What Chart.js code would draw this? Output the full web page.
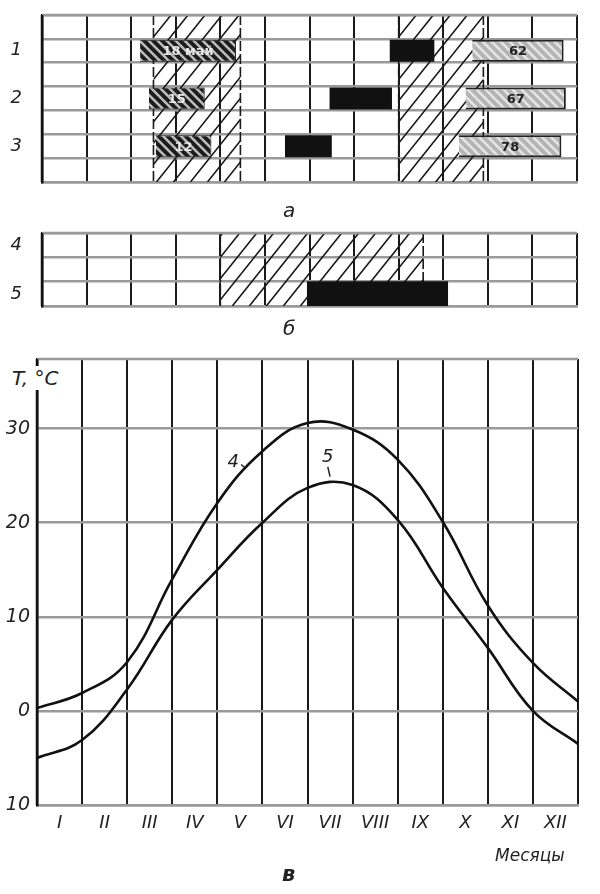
<!DOCTYPE html>
<html>
<head>
<meta charset="utf-8">
<script src="https://cdn.jsdelivr.net/npm/chart.js@4.4.0/dist/chart.umd.min.js"></script>
<style>
  body { margin: 0; background: #fff; }
  #wrap { position: relative; width: 600px; height: 894px; background: #fff; overflow: hidden; }
  canvas { position: absolute; left: 0; }
  .cap { position: absolute; font-family: "DejaVu Sans", sans-serif; font-style: italic; color: #222; }
</style>
</head>
<body>
<div id="wrap">
  <canvas id="chartA" width="600" height="200" style="top:0"></canvas>
  <canvas id="chartB" width="600" height="100" style="top:220px"></canvas>
  <canvas id="chartC" width="600" height="554" style="top:340px"></canvas>
  <div class="cap" style="left:283px; top:198px; font-size:20px;">а</div>
  <div class="cap" style="left:283px; top:316px; font-size:20px;">б</div>
  <div class="cap" style="left:10px; top:366px; font-size:20px; background:#fff; padding:0 2px;">T, °C</div>
  <div class="cap" style="left:495px; top:845px; font-size:17px;">Месяцы</div>
  <div class="cap" style="left:282px; top:862px; font-size:21px; font-weight:bold;">в</div>
</div>
<script>
// Fig. a: rows 1-3, floating bars over months (0..12)
const rowsA = ["", "1", "", "2", "", "3", ""];
const hatchA = [[2.5, 4.45], [8.0, 9.9]];
const blackA = [null, [7.8, 8.8], null, [6.45, 7.85], null, [5.45, 6.5], null];
const darkA = [null, [2.2, 4.35], null, [2.4, 3.65], null, [2.55, 3.8], null];
const darkText = ["", "18 май", "", "15", "", "12", ""];
const grayA = [null, [9.65, 11.7], null, [9.5, 11.75], null, [9.35, 11.65], null];
const grayText = ["", "62", "", "67", "", "78", ""];

// Fig. б
const rowsB = ["4", "", "5"];
const hatchB = [[4.0, 8.55]];
const blackB = [null, null, [5.95, 9.1]];

// Fig. в: temperature curves, values at month boundaries
const months = ["I", "II", "III", "IV", "V", "VI", "VII", "VIII", "IX", "X", "XI", "XII"];
const monthPos = [0, 1, 2, 3, 4, 5, 6, 7, 8, 9, 10, 11, 12];
const temp4 = [0.3, 1.9, 5.2, 14, 22.1, 27.6, 30.6, 29.9, 26.7, 20.1, 11.2, 5.1, 1.0];
const temp5 = [-5.0, -3.1, 2.3, 9.7, 15.0, 20.0, 23.7, 24.0, 20.3, 13.1, 6.7, 0.0, -3.5];
const tickValues = [-10, 0, 10, 20, 30];
const tickLabels = ["10", "0", "10", "20", "30"];

const FONT = "DejaVu Sans";
const gridGray = "#9a9a9a";

function stripes(bg, fg, size, lw) {
    var c = document.createElement("canvas");
    c.width = size; c.height = size;
    var g = c.getContext("2d");
    g.fillStyle = bg;
    g.fillRect(0, 0, size, size);
    g.strokeStyle = fg;
    g.lineWidth = lw;
    g.beginPath();
    g.moveTo(0, 0); g.lineTo(size, size);
    g.moveTo(-size / 2, size / 2); g.lineTo(size / 2, size * 1.5);
    g.moveTo(size / 2, -size / 2); g.lineTo(size * 1.5, size / 2);
    g.stroke();
    return g.createPattern(c, "repeat");
}

// no extra room for half tick labels
function noPad(s) {
    s.paddingTop = 0; s.paddingBottom = 0;
    s.paddingLeft = 0; s.paddingRight = 0;
}

// diagonal hatching of month ranges over the whole plot height
const hatchPlugin = {
    id: "hatch",
    beforeDatasetsDraw(chart, args, opts) {
        var ctx = chart.ctx, a = chart.chartArea, xs = chart.scales.x;
        (opts.ranges || []).forEach(function (r) {
            var x0 = xs.getPixelForValue(r[0]), x1 = xs.getPixelForValue(r[1]);
            var h = a.bottom - a.top;
            ctx.save();
            ctx.beginPath();
            ctx.rect(x0, a.top, x1 - x0, h);
            ctx.clip();
            ctx.strokeStyle = "#1a1a1a";
            ctx.lineWidth = 1.6;
            ctx.beginPath();
            for (var k = x0 - h; k < x1 + h; k += 17) {
                ctx.moveTo(k, a.bottom);
                ctx.lineTo(k + h * 0.8, a.top);
            }
            ctx.stroke();
            ctx.restore();
            ctx.save();
            ctx.strokeStyle = "#1a1a1a";
            ctx.lineWidth = 1.6;
            ctx.setLineDash([10, 3]);
            ctx.beginPath();
            ctx.moveTo(x0, a.top); ctx.lineTo(x0, a.bottom);
            ctx.moveTo(x1, a.top); ctx.lineTo(x1, a.bottom);
            ctx.stroke();
            ctx.restore();
        });
    }
};

// text written inside bars
const barTextPlugin = {
    id: "barText",
    afterDatasetsDraw(chart) {
        var ctx = chart.ctx;
        chart.data.datasets.forEach(function (ds, i) {
            if (!ds.texts) return;
            chart.getDatasetMeta(i).data.forEach(function (bar, j) {
                if (!ds.texts[j]) return;
                ctx.save();
                ctx.font = "bold 13px '" + FONT + "'";
                ctx.fillStyle = ds.textColor;
                ctx.textAlign = "center";
                ctx.textBaseline = "middle";
                ctx.fillText(ds.texts[j], (bar.x + bar.base) / 2, bar.y + 1);
                ctx.restore();
            });
        });
    }
};

// frame around the plot
const framePlugin = {
    id: "frame",
    afterDraw(chart) {
        var ctx = chart.ctx, a = chart.chartArea;
        ctx.save();
        ctx.strokeStyle = gridGray;
        ctx.lineWidth = 2.5;
        ctx.beginPath();
        ctx.moveTo(a.left, a.top); ctx.lineTo(a.right, a.top);
        ctx.stroke();
        ctx.strokeStyle = "#111";
        ctx.lineWidth = 2.5;
        ctx.beginPath();
        ctx.moveTo(a.left, a.top); ctx.lineTo(a.left, a.bottom);
        ctx.stroke();
        ctx.restore();
    }
};

function ganttOptions(ranges, leftW, bottomH, padTop) {
    return {
        indexAxis: "y",
        responsive: false,
        animation: false,
        layout: { padding: { top: padTop, right: 23, left: 0, bottom: 0 } },
        datasets: { bar: { grouped: false, barPercentage: 0.92, categoryPercentage: 1 } },
        scales: {
            x: {
                type: "linear", min: 0, max: 12,
                ticks: { stepSize: 1, display: false },
                grid: { color: "#1a1a1a", lineWidth: 2, drawTicks: false },
                border: { color: gridGray, width: 2.5 },
                afterFit: function (s) { noPad(s); s.height = bottomH; }
            },
            y: {
                offset: true,
                grid: { offset: true, color: gridGray, lineWidth: 2.5, drawTicks: false },
                border: { color: "#111", width: 2.5 },
                ticks: { autoSkip: false, padding: 20, color: "#222", font: { family: FONT, size: 18, style: "italic" } },
                afterFit: function (s) { noPad(s); s.width = leftW; }
            }
        },
        plugins: {
            legend: { display: false },
            tooltip: { enabled: false },
            hatch: { ranges: ranges }
        }
    };
}

const ctxA = document.getElementById("chartA").getContext("2d");
new Chart(ctxA, {
    type: "bar",
    data: {
        labels: rowsA,
        datasets: [
            { data: blackA, backgroundColor: "#111" },
            { data: darkA, backgroundColor: stripes("#1c1c1c", "#bdbdbd", 9, 2.5), borderColor: "#111", borderWidth: 1,
              texts: darkText, textColor: "#e8e8e8" },
            { data: grayA, backgroundColor: stripes("#b4b4b4", "#e6e6e6", 9, 2.5), borderColor: "#222", borderWidth: 2,
              texts: grayText, textColor: "#222" }
        ]
    },
    options: ganttOptions(hatchA, 42, 18, 15),
    plugins: [hatchPlugin, barTextPlugin, framePlugin]
});

const ctxB = document.getElementById("chartB").getContext("2d");
new Chart(ctxB, {
    type: "bar",
    data: {
        labels: rowsB,
        datasets: [
            { data: blackB, backgroundColor: "#111", barPercentage: 1 }
        ]
    },
    options: ganttOptions(hatchB, 42, 14, 13),
    plugins: [hatchPlugin, framePlugin]
});

// curve number labels with short leader strokes
const curveLabelPlugin = {
    id: "curveLabels",
    afterDatasetsDraw(chart) {
        var ctx = chart.ctx, xs = chart.scales.x, ys = chart.scales.y;
        var marks = [
            { t: "4", x: 4.35, y: 26.4, dx: 8, dy: 2, lx: 4.6, ly: 25.9 },
            { t: "5", x: 6.45, y: 27.0, dx: 0, dy: 10, lx: 6.5, ly: 24.9 }
        ];
        ctx.save();
        ctx.font = "italic 18px '" + FONT + "'";
        ctx.fillStyle = "#222";
        ctx.strokeStyle = "#222";
        ctx.lineWidth = 1.5;
        ctx.textAlign = "center";
        ctx.textBaseline = "middle";
        marks.forEach(function (m) {
            var px = xs.getPixelForValue(m.x), py = ys.getPixelForValue(m.y);
            ctx.fillText(m.t, px, py);
            ctx.beginPath();
            ctx.moveTo(px + m.dx, py + m.dy);
            ctx.lineTo(xs.getPixelForValue(m.lx), ys.getPixelForValue(m.ly));
            ctx.stroke();
        });
        ctx.restore();
    }
};

const ctxC = document.getElementById("chartC").getContext("2d");
new Chart(ctxC, {
    type: "line",
    data: {
        datasets: [
            { data: monthPos.map(function (m, i) { return { x: m, y: temp4[i] }; }) },
            { data: monthPos.map(function (m, i) { return { x: m, y: temp5[i] }; }) }
        ]
    },
    options: {
        responsive: false,
        animation: false,
        layout: { padding: { top: 19, right: 22, left: 0, bottom: 0 } },
        elements: {
            line: { borderColor: "#111", borderWidth: 2.6, tension: 0.4, fill: false },
            point: { radius: 0 }
        },
        scales: {
            x: {
                type: "linear", min: 0, max: 12,
                ticks: {
                    stepSize: 0.5, autoSkip: false, maxRotation: 0, padding: 8, color: "#222",
                    font: { family: FONT, size: 18, style: "italic" },
                    callback: function (v) { return Number.isInteger(v) ? "" : months[Math.floor(v)]; }
                },
                grid: {
                    drawTicks: false, lineWidth: 2,
                    color: function (c) { return Number.isInteger(c.tick.value) ? "#1a1a1a" : "rgba(0,0,0,0)"; }
                },
                border: { color: gridGray, width: 2.5 },
                afterFit: function (s) { s.height = 89; }
            },
            y: {
                min: -10, max: 37.4,
                afterBuildTicks: function (s) { s.ticks = tickValues.map(function (v) { return { value: v }; }); },
                ticks: {
                    padding: 7, color: "#222",
                    font: { family: FONT, size: 19, style: "italic" },
                    callback: function (v) { return tickLabels[tickValues.indexOf(v)]; }
                },
                grid: { color: gridGray, lineWidth: 2.5, drawTicks: false },
                border: { color: "#111", width: 2.5 },
                afterFit: function (s) { s.width = 37; }
            }
        },
        plugins: { legend: { display: false }, tooltip: { enabled: false } }
    },
    plugins: [curveLabelPlugin, framePlugin]
});
</script>
</body>
</html>
